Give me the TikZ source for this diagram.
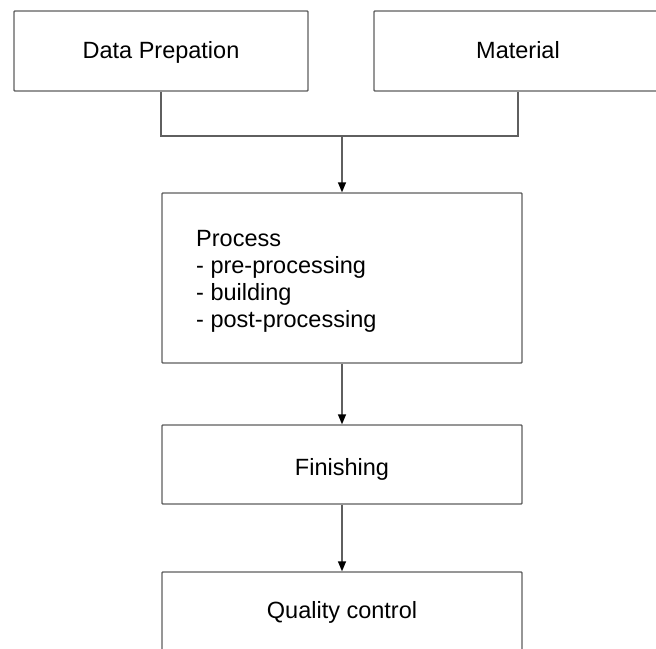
\documentclass[tikz,border=0pt]{standalone}
\usepackage{fontspec}
\setmainfont{Liberation Sans}
\usetikzlibrary{arrows.meta}
\definecolor{linegray}{RGB}{95,95,95}
\tikzset{
  box/.style={draw=linegray, line width=1.4pt, fill=white, inner sep=0pt, rounded corners=0.8pt},
  lbl/.style={font=\fontsize{23.5}{27}\selectfont, text=black, inner sep=0pt},
  conn/.style={draw=linegray, line width=1.4pt},
  arr/.style={conn, -{Triangle[width=8pt,length=10pt,black]}}
}
\begin{document}
\begin{tikzpicture}[x=1pt,y=-1pt]
\useasboundingbox (0,0) rectangle (656,648);
\clip (0,0) rectangle (656,648);
\node[box, minimum width=294pt, minimum height=80pt] (dp) at (161,51) {};
\node[lbl, anchor=base] (dpt) at (161,58) {Data Prepation};
\node[box, minimum width=288pt, minimum height=80pt] (mat) at (518,51) {};
\node[lbl, anchor=base] (matt) at (518,58) {Material};
\node[box, minimum width=360pt, minimum height=170pt] (proc) at (342,278) {};
\node[lbl, anchor=base west, align=left] (proct) at (196,327.5) {Process\\- pre-processing\\- building\\- post-processing};
\node[box, minimum width=360pt, minimum height=79pt] (fin) at (342,464.5) {};
\node[lbl, anchor=base] (fint) at (342,475) {Finishing};
\node[box, minimum width=360pt, minimum height=79pt] (qc) at (342,611.5) {};
\node[lbl, anchor=base] (qct) at (342,618) {Quality control};
\coordinate (j) at (342,136);
\draw[conn] (dp.south) |- (j) -| (mat.south);
\draw[arr] (j) -- (proc.north);
\draw[arr] (proc.south) -- (fin.north);
\draw[arr] (fin.south) -- (qc.north);
\end{tikzpicture}
\end{document}
